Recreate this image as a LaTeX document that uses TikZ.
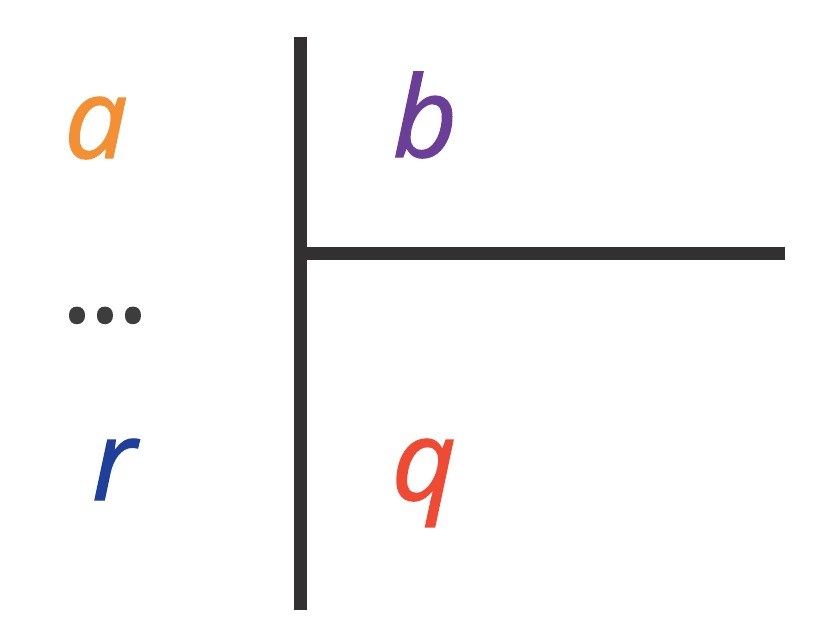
\documentclass[tikz,border=0pt]{standalone}
\usepackage{fontspec}
\setmainfont{Open Sans}
\newfontfamily\lblfont{Open Sans}[ItalicFeatures={FakeBold=1.3},UprightFeatures={FakeBold=3}]
\definecolor{cola}{HTML}{F39033}
\definecolor{colb}{HTML}{6B3F98}
\definecolor{colr}{HTML}{1F3F9A}
\definecolor{colq}{HTML}{EF4A34}
\definecolor{bar}{HTML}{323031}
\definecolor{dots}{HTML}{3D3D3D}
\begin{document}
\begin{tikzpicture}[x=1pt,y=-1pt,line cap=butt,font=\fontsize{112}{120}\lblfont\itshape]
\tikzset{lbl/.style={inner sep=0pt,anchor=base}}
\useasboundingbox (0,0) rectangle (819,629);
\def\xv{300.5} \def\yh{253.7}
\coordinate (top) at (\xv,37);
\coordinate (bot) at (\xv,610);
\coordinate (mid) at (\xv,\yh);
\coordinate (end) at (785,\yh);
\draw[bar,line width=12.7pt] (top)--(bot) (mid)--(end);
\node[lbl,cola] (a) at (96,158) {a};
\node[lbl,colb] (b) at (425,157) {b};
\node[lbl,colr] (r) at (114,500) {r};
\node[lbl,colq] (q) at (424,500) {q};
\node[lbl,dots,font=\fontsize{108}{120}\lblfont\upshape] (dd) at (105,321) {…};
\end{tikzpicture}
\end{document}
